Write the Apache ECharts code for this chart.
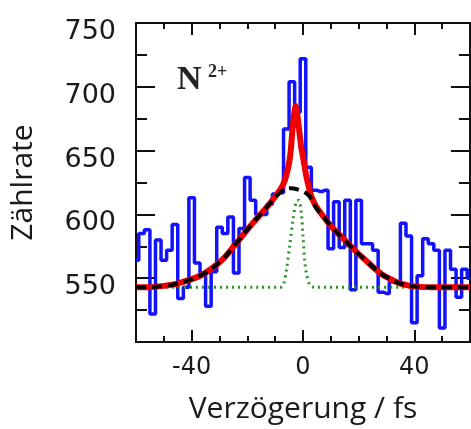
<!DOCTYPE html>
<html>
<head>
<meta charset="utf-8">
<title>N2+ Zählrate</title>
<script src="https://cdn.jsdelivr.net/npm/echarts@6/dist/echarts.min.js"></script>
<style>
    html, body { margin: 0; padding: 0; background: #fff; }
    #main { width: 471px; height: 429px; }
</style>
</head>
<body>
<div id="main"></div>
<script>
// Histogramm (Bin-Mitte in fs, Zählrate)
var binX = [-60, -58, -56, -54, -52, -50, -48, -46, -44, -42, -40, -38, -36, -34, -32, -30, -28, -26, -24, -22,
    -20, -18, -16, -14, -12, -10, -8, -6, -4, -2, 0, 2, 4, 6, 8, 10, 12, 14, 16, 18,
    20, 22, 24, 26, 28, 30, 32, 34, 36, 38, 40, 42, 44, 46, 48, 50, 52, 54, 56, 58, 60];
var counts = [564, 585, 588, 522, 580, 564, 572, 592, 534, 543, 613, 562, 554, 528, 555, 590, 585, 598, 554, 589,
    629, 611, 600, 600, 608, 616, 617, 667, 704, 680, 722, 637, 619, 618, 619, 573, 610, 574, 611, 541,
    611, 577, 577, 572, 539, 538, 547, 547, 593, 583, 515, 552, 581, 577, 572, 511, 572, 557, 535, 557, 550];

// breite Anpassung (schwarz gestrichelt)
var broadX = [-60, -55.5, -50, -44.8, -36.4, -29.2, -24.5, -18.5, -12.5, -7.7, -4.2, -1.2, 0.6, 2.4, 4.8, 7.8,
    10.8, 13.8, 16.7, 19.7, 22.7, 25.7, 28.7, 31.7, 34.7, 40.6, 46.6, 60];
var broadY = [543, 543, 544, 546, 552.5, 564, 576, 592, 607, 618, 620.5, 619, 617.5, 614, 605, 597,
    589, 582.5, 576, 569.5, 563.7, 557.7, 552.5, 549, 546, 543.4, 543, 543];

// Summe (rot)
var sumX = [-60, -55.5, -50, -44.8, -36.4, -29.2, -24.5, -18.5, -12.5, -8, -6.5, -5.2, -4.5, -3.7, -2.6, -1.6,
    -0.6, 0, 1, 1.8, 3, 4.8, 7.8, 10.8, 13.8, 16.7, 19.7, 22.7, 25.7, 28.7, 31.7, 34.7, 40.6, 46.6, 60];
var sumY = [543, 543, 544, 546, 552.5, 564, 576, 592, 607, 620, 627, 638, 648, 668, 685, 670,
    652, 645, 632, 624, 614, 606, 597, 589, 582.5, 576, 569.5, 563.7, 557.7, 552.5, 549, 546, 543.4, 543, 543];

// schmale Komponente (grün gepunktet)
var narrowX = [-60, -8, -7, -6, -4.8, -3.6, -2.4, -1.5, -0.6, 0, 0.6, 1.2, 2.4, 4, 60];
var narrowY = [543, 543, 545, 556, 575, 596, 610, 611, 601, 583, 564, 554, 545, 543, 543];

// Achsenraster x (alle 10 fs), beschriftet nur -40, 0, 40
var xTicks = ['-60', '-50', '-40', '-30', '-20', '-10', '0', '10', '20', '30', '40', '50', '60'];
var xTickLabels = ['-40', '0', '40'];

function pairs(xs, ys) {
    var out = [];
    for (var i = 0; i < xs.length; i++) {
        out.push([xs[i], ys[i]]);
    }
    return out;
}

function isMajor(index, value) {
    return xTickLabels.indexOf(value) >= 0;
}

var myChart = echarts.init(document.getElementById('main'));

var lineStyleAxis = {color: '#111', width: 2};
var tickStyle = {color: '#111', width: 2};

// kurze Striche, Wertachse (traegt die Daten)
function xValueAx(pos) {
    return {
        type: 'value', position: pos, min: -60, max: 60, interval: 10,
        axisLine: {show: true, onZero: false, lineStyle: lineStyleAxis},
        axisTick: {show: true, inside: true, length: 6, lineStyle: tickStyle},
        splitLine: {show: false},
        axisLabel: {show: false}
    };
}

// lange Striche bei -40, 0, 40 + Beschriftung
function xMajorAx(pos, labels) {
    return {
        type: 'category', position: pos, data: xTicks, boundaryGap: false,
        axisLine: {show: false},
        axisTick: {show: true, inside: true, length: 12, interval: isMajor, lineStyle: tickStyle},
        splitLine: {show: false},
        axisLabel: {
            show: labels, interval: isMajor, margin: 14, fontSize: 24,
            color: '#1a1a1a', fontFamily: 'DejaVu Sans'
        },
        name: labels ? 'Verzögerung / fs' : '',
        nameLocation: 'middle', nameGap: 52,
        nameTextStyle: {fontSize: 30, color: '#1a1a1a', fontFamily: 'Open Sans'}
    };
}

function yAx(pos, interval, len, labels) {
    return {
        type: 'value', position: pos, min: 500, max: 750, interval: interval,
        axisLine: {show: true, onZero: false, lineStyle: lineStyleAxis},
        axisTick: {show: true, inside: true, length: len, lineStyle: tickStyle},
        splitLine: {show: false},
        axisLabel: labels ? {
            show: true, margin: 20, fontSize: 27, color: '#1a1a1a', fontFamily: 'DejaVu Sans',
            verticalAlign: 'top', lineHeight: 18,
            formatter: function (v) { return v > 500 ? String(v) : ''; }
        } : {show: false},
        name: labels ? 'Zählrate' : '',
        nameLocation: 'middle', nameGap: 98, nameRotate: 90,
        nameTextStyle: {fontSize: 30, color: '#1a1a1a', fontFamily: 'Open Sans'}
    };
}

myChart.setOption({
    animation: false,
    backgroundColor: '#fff',
    grid: {left: 135, right: 1, top: 23, bottom: 87},
    xAxis: [
        xValueAx('bottom'),
        xMajorAx('bottom', true),
        xValueAx('top'),
        xMajorAx('top', false)
    ],
    yAxis: [
        yAx('left', 25, 11, false),
        yAx('left', 50, 19, true),
        yAx('right', 25, 11, false),
        yAx('right', 50, 19, false)
    ],
    graphic: [
        {type: 'text', left: 177, top: 63, z: 10,
            style: {text: 'N', font: 'bold 34px "Liberation Serif"', fill: '#222'}},
        {type: 'text', left: 208, top: 63, z: 10,
            style: {text: '2+', font: 'bold 18px "Liberation Serif"', fill: '#222'}}
    ],
    series: [
        {
            name: 'Messung', type: 'line', step: 'middle', symbol: 'none', z: 1,
            lineStyle: {color: '#1212ff', width: 3.5},
            data: pairs(binX, counts)
        },
        {
            name: 'schmal', type: 'line', symbol: 'none', smooth: 0.3, z: 2,
            lineStyle: {color: '#249324', width: 3, type: [2, 4]},
            data: pairs(narrowX, narrowY)
        },
        {
            name: 'Summe', type: 'line', symbol: 'none', smooth: 0.3, z: 3,
            lineStyle: {color: '#ee0000', width: 6},
            data: pairs(sumX, sumY)
        },
        {
            name: 'breit', type: 'line', symbol: 'none', smooth: 0.4, z: 4,
            lineStyle: {color: '#000', width: 4, type: [10, 6]},
            data: pairs(broadX, broadY)
        }
    ]
});
</script>
</body>
</html>
